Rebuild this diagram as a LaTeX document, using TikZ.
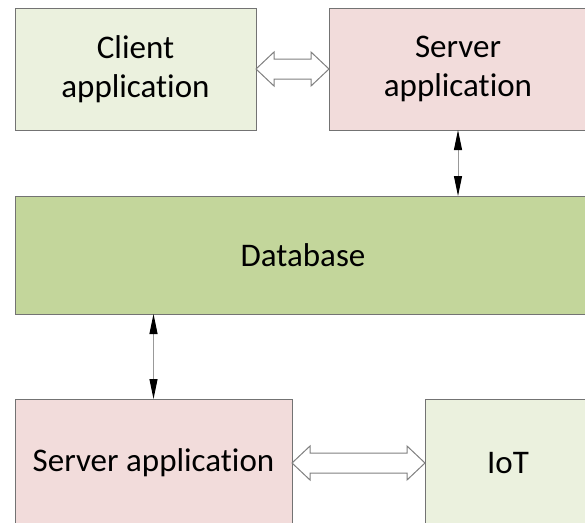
\documentclass[tikz,border=0pt]{standalone}
\usepackage{fontspec}
\setmainfont[Ligatures=NoCommon]{Carlito}
\usetikzlibrary{positioning, arrows.meta, calc}

\begin{document}
\begin{tikzpicture}[
    x=1pt, y=1pt,
    box/.style={draw=black!55, line width=1pt, outer sep=0pt, inner sep=0pt,
                align=center, font=\fontsize{33}{39}\selectfont},
    lightgreen/.style={box, fill={rgb,255:red,235;green,241;blue,222}},
    lightred/.style={box, fill={rgb,255:red,242;green,220;blue,219}},
    olive/.style={box, fill={rgb,255:red,195;green,214;blue,155}},
    thinarr/.style={{Triangle[length=20pt,width=8pt,color=black]}-{Triangle[length=20pt,width=8pt,color=black]},
                    draw=black!40, line width=1pt},
    fatarr/.style={draw=black!50, fill=white, line width=1pt, line join=miter,
                   to path={let \p1=(\tikztostart), \p2=(\tikztotarget) in
                     -- (\x1+18pt,\y1+17pt) -- (\x1+18pt,\y1+10pt)
                     -- (\x2-18pt,\y1+10pt) -- (\x2-18pt,\y1+17pt)
                     -- (\x2,\y1) -- (\x2-18pt,\y1-17pt) -- (\x2-18pt,\y1-10pt)
                     -- (\x1+18pt,\y1-10pt) -- (\x1+18pt,\y1-17pt) -- cycle}}]

  \useasboundingbox (0,0) rectangle (585,-522);

  % === Top row ===
  \node[lightgreen, minimum width=241pt, minimum height=122pt, anchor=north west]
    (client) at (15,-8) {Client\\application};
  \node[lightred, minimum width=258pt, minimum height=122pt, right=73pt of client]
    (srvtop) {Server\\application};

  % === Database ===
  \node[olive, minimum width=576pt, minimum height=118pt,
        below right=66pt and 0pt of client.south west] (db) {Database};

  % === Bottom row ===
  \node[lightred, minimum width=277pt, minimum height=128pt,
        below right=85pt and 0pt of db.south west] (srvbot) {Server application};
  \node[lightgreen, minimum width=166pt, minimum height=128pt, right=133pt of srvbot]
    (iot) {IoT};

  % === Arrows ===
  \draw[fatarr] (client.east) to (srvtop.west);
  \draw[fatarr] (srvbot.east) to (iot.west);
  \draw[thinarr] (srvtop.south) -- (srvtop.south |- db.north);
  \draw[thinarr] (db.south -| srvbot.north) -- (srvbot.north);

\end{tikzpicture}
\end{document}
